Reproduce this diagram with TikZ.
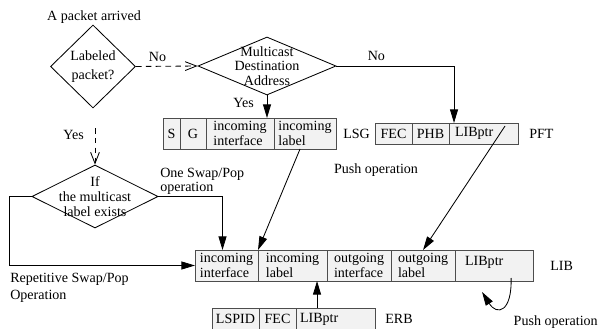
\documentclass[tikz,border=0pt]{standalone}
\usepackage{fontspec}
\setmainfont{Liberation Serif}
\usepackage{tikz}
\usetikzlibrary{arrows.meta,positioning,shapes.geometric}
\definecolor{cellgray}{HTML}{F2F2F2}
\definecolor{cellline}{HTML}{4D4D4D}

\begin{document}
\begin{tikzpicture}[
  x=0.025cm, y=-0.025cm,
  decision/.style={
    diamond,
    draw=black,
    line width=0.6pt,
    inner sep=0pt
  },
  dtext/.style={
    align=center,
    inner sep=0pt
  },
  cell/.style={
    rectangle,
    draw=cellline,
    fill=cellgray,
    line width=0.6pt,
    inner sep=0pt,
    outer sep=0pt,
    align=left,
    font=\fontsize{10}{7}\selectfont
  },
  tname/.style={inner sep=0pt},
  note/.style={inner sep=0pt, align=left},
  arrow/.style={-{Triangle[length=0.34cm,width=0.2cm]}, line width=0.6pt},
  dasharrow/.style={-{Straight Barb[length=0.28cm,width=0.22cm]}, line width=0.6pt,
    dash pattern=on 4pt off 3pt}
]
\useasboundingbox (0,0) rectangle (600,329);

% decisions
\node[note] (arrived) at (94,17) {A packet arrived};
\node[decision, minimum width=2.125cm, minimum height=2.075cm,
  label={[dtext, font=\fontsize{10}{13}\selectfont]center:Labeled\\packet?}] (lab) at (93,66.5) {};
\node[decision, minimum width=3.45cm, minimum height=1.45cm,
  label={[dtext, font=\fontsize{10}{10.5}\selectfont]center:Multicast\\Destination\\Address}] (mc) at (267,66) {};
\node[decision, minimum width=3.15cm, minimum height=1.575cm,
  label={[dtext, font=\fontsize{10}{10.7}\selectfont]center:If\\the multicast\\label exists}] (ifd) at (95,196.5) {};

% LSG
\node[cell, minimum height=0.775cm, minimum width=0.425cm, anchor=west] (lsg1) at (163,133.5) {S};
\node[cell, minimum height=0.775cm, minimum width=0.65cm, right=0pt of lsg1] (lsg2) {G};
\node[cell, minimum height=0.775cm, minimum width=1.7cm, right=0pt of lsg2] (lsg3) {incoming\\interface};
\node[cell, minimum height=0.775cm, minimum width=1.55cm, right=0pt of lsg3] (lsg4) {incoming\\label};
\node[tname, right=0.175cm of lsg4] (lsgname) {LSG};

% PFT
\node[cell, minimum height=0.525cm, minimum width=0.925cm, anchor=west] (pft1) at (375,133.5) {FEC};
\node[cell, minimum height=0.525cm, minimum width=0.925cm, right=0pt of pft1] (pft2) {PHB};
\node[cell, minimum height=0.525cm, text width=1.425cm, inner xsep=0.15cm, right=0pt of pft2] (pft3) {LIBptr};
\node[tname, right=0.275cm of pft3] (pftname) {PFT};

% LIB
\node[cell, minimum height=0.775cm, minimum width=1.575cm, anchor=west] (lib1) at (195,265.5) {incoming\\interface};
\node[cell, minimum height=0.775cm, minimum width=1.725cm, right=0pt of lib1] (lib2) {incoming\\label};
\node[cell, minimum height=0.775cm, minimum width=1.6cm, right=0pt of lib2] (lib3) {outgoing\\interface};
\node[cell, minimum height=0.775cm, minimum width=1.6cm, right=0pt of lib3] (lib4) {outgoing\\label};
\node[cell, minimum height=0.775cm, text width=1.45cm, inner xsep=0.25cm, right=0pt of lib4] (lib5) {LIBptr\\\mbox{}};
\node[tname, right=0.425cm of lib5] (libname) {LIB};

% ERB
\node[cell, minimum height=0.55cm, minimum width=1.175cm, anchor=west] (erb1) at (212,319) {LSPID};
\node[cell, minimum height=0.55cm, minimum width=0.925cm, right=0pt of erb1] (erb2) {FEC};
\node[cell, minimum height=0.55cm, text width=1.775cm, inner xsep=0.1cm, right=0pt of erb2] (erb3) {LIBptr};
\node[tname, right=0.25cm of erb3] (erbname) {ERB};

% connectors
\draw[dasharrow] (lab.east) -- node[above, pos=0.35] (no1) {No} (mc.west);
\draw[arrow] (mc.south) -- node[left=0.2cm, pos=0.35] (yes1) {Yes} (mc.south |- lsg3.north);
\draw[arrow] (mc.east) -| node[above, pos=0.17] (no2) {No} ([xshift=0.125cm]pft3.north west);
\draw[arrow] ([xshift=-0.125cm]lsg4.south) -- (lib1.north east);
\draw[arrow] ([xshift=-0.325cm,yshift=-0.075cm]pft3.north east) -- (lib4.north);
\node[note] (push1) at (376,170) {Push operation};

\coordinate (yestop) at (95,128);
\draw[dasharrow] (yestop) -- node[left=0.15cm, pos=0.2] (yes2) {Yes} (ifd.north);

\draw[arrow] (ifd.east) -| node[pos=0, anchor=south west, inner sep=1pt,
  font=\fontsize{10}{7}\selectfont, align=left] (oneswap) {One Swap/Pop\\operation}
  ([xshift=-0.1cm]lib1.north);

\coordinate (corner) at (9,265.5);
\draw[arrow] (ifd.west) -| (corner) -- (lib1.west);
\node[note, below right=0.19cm and 0.025cm of corner] (repet) {Repetitive Swap/Pop\\Operation};

\coordinate (erbup) at ([xshift=0.525cm]erb3.north west);
\draw[arrow] (erbup) -- (erbup |- lib2.south);

\draw[arrow] ([xshift=0.425cm,yshift=0.075cm]lib5.south) .. controls +(1,34) and +(15,24) .. ([xshift=-0.3cm,yshift=-0.275cm]lib5.south);
\node[note, anchor=east] (push2) at (598,322) {Push operation};

\end{tikzpicture}
\end{document}
